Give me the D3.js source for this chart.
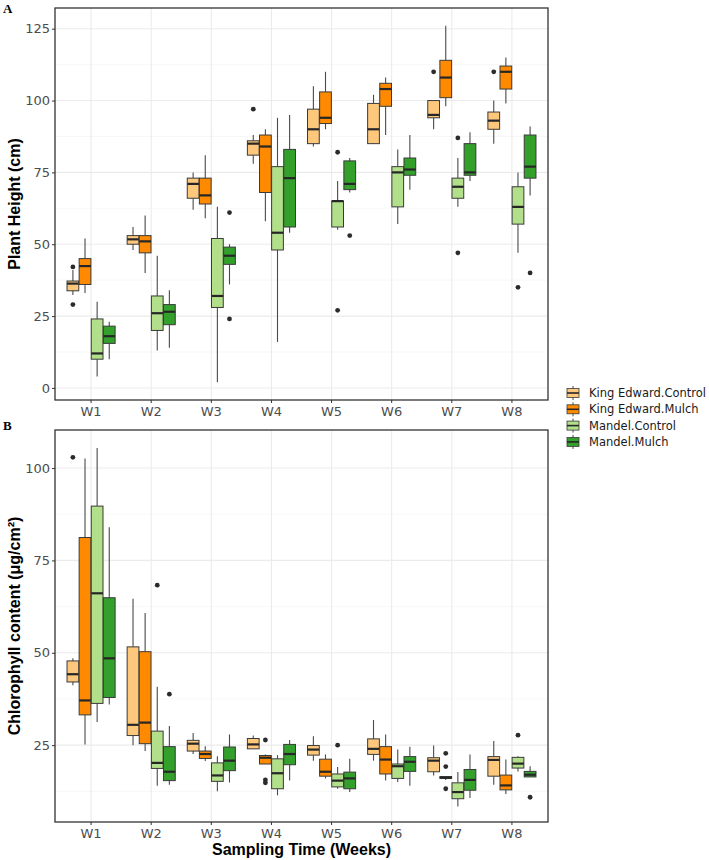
<!DOCTYPE html>
<html><head><meta charset="utf-8">
<script src="https://cdn.jsdelivr.net/npm/d3@7"></script>
<style>body{margin:0;background:#fff} svg{display:block}</style>
</head><body>
<svg id="c" width="709" height="860"></svg>
<script>
const weeks = ["W1","W2","W3","W4","W5","W6","W7","W8"];
const seriesNames = ["King Edward.Control","King Edward.Mulch","Mandel.Control","Mandel.Mulch"];
const seriesColors = ["#FDC77C","#FF8A00","#B2DF8A","#33A02C"];

// Plant height: [lower whisker, Q1, median, Q3, upper whisker] per week
const heightKEControl = [[32.3,33.8,36.3,37.2,41],[48,50,51.7,53,56],[62,66,71,73,75],[78,81,85,86,88],[84,85,90,97,105],[85,85,90,99,102],[90,94,95,100,100],[85,90,93,96,100]];
const heightKEMulch = [[33,36,42.4,45,52],[40,47,51,53,60],[59,64,67,73,81],[58,68,84,88,90],[90,92,94,103,110],[88,98,104,106,108],[98,101,108,114,126],[99,104,110,112,115]];
const heightMandelControl = [[4,10,12,24,30],[13,20,26,32,46],[2,28,32,52,63],[16,48,54,77,94],[55,56,65,65,72],[57,63,75,77,83],[63,66,70,73,80],[47,57,63,70,75]];
const heightMandelMulch = [[10,15.5,18,21.5,23],[14,22,26.5,29,34],[36,43,46,49,50],[54,56,73,83,95],[68,69,71,79,80],[69,74,76,80,88],[72,74,75,85,89],[67,73,77,88,91]];
const heightKEControlOut = [[42.1,29],[],[],[97],[],[],[110],[110]];
const heightKEMulchOut = [[],[],[],[],[],[],[],[]];
const heightMandelControlOut = [[],[],[],[],[82,27],[],[87,47],[35]];
const heightMandelMulchOut = [[],[],[61,24],[],[53],[],[],[40]];

// Chlorophyll content: [lower whisker, Q1, median, Q3, upper whisker] per week
const chlKEControl = [[41.2,42.1,44.2,47.8,48.5],[25,27.6,30.5,51.6,64.6],[22.6,23.4,25.4,26.3,28.3],[24,24,25.2,26.8,27.6],[20.8,22.3,23.8,24.9,27.4],[20.8,22.5,24,26.7,31.8],[16.8,17.8,20.8,21.6,24.9],[14.3,16.6,21,21.9,26.1]];
const chlKEMulch = [[25.2,33.2,37.1,81.2,102.6],[23.4,25.4,31.1,50.3,60.8],[20.7,21.4,22.6,23.4,24.7],[19.9,19.9,21.6,22.2,22.5],[16,16.6,17.8,21.2,22.5],[15.4,17.2,21.1,24.6,27.9],[15.6,16,16.2,16.5,16.5],[11.8,12.9,14.1,16.9,21.1]];
const chlMandelControl = [[31.3,36.3,66.1,89.7,105.4],[14,18.7,20.2,28.8,40.8],[12.5,15.2,16.8,20.2,22],[11.4,13.2,17.4,21.3,22.3],[13.2,13.7,15.4,17.2,19.1],[15,16,19.3,19.9,23.8],[8.4,10.5,12.3,14.8,17.7],[17.9,18.8,20,21.7,22]];
const chlMandelMulch = [[36,37.9,48.5,64.9,84],[14.3,15.4,17.8,24.6,30.2],[14.9,18.1,20.8,24.5,27.9],[15.4,19.7,22.6,25.2,26.4],[12.3,13.2,16,17.7,21.3],[14,17.9,20.5,21.9,24.6],[10.7,12.8,15.6,18.4,22.5],[16.4,16.4,17,17.9,19.3]];
const chlKEControlOut = [[102.9],[],[],[],[],[],[],[]];
const chlKEMulchOut = [[],[],[],[26.4,15.6,14.8],[],[],[22.8,19.2,13.2],[]];
const chlMandelControlOut = [[],[68.3],[],[],[25],[],[],[27.7]];
const chlMandelMulchOut = [[],[38.8],[],[],[],[],[],[10.9]];

const heightTicks = [0,25,50,75,100,125];
const heightMinor = [12.5,37.5,62.5,87.5,112.5];
const chlTicks = [25,50,75,100];
const chlMinor = [12.5,37.5,62.5,87.5];

const svg = d3.select("#c");
const L = 55, R = 548;
const x = d3.scaleBand().domain(weeks).range([L, R]).paddingInner(0).paddingOuter(0.1);
const bw = x.bandwidth();
const xs = d3.scaleBand().domain(seriesNames).range([-0.4*bw, 0.4*bw]).paddingInner(0.03);
const color = d3.scaleOrdinal().domain(seriesNames).range(seriesColors);

function panel(o) {
  const y = d3.scaleLinear().domain(o.domain).range([o.bottom, o.top]);
  const g = svg.append("g");
  g.selectAll(".mn").data(o.minor).join("line")
    .attr("x1", L).attr("x2", R).attr("y1", d=>y(d)).attr("y2", d=>y(d))
    .attr("stroke", "#f2f2f2").attr("stroke-width", 0.6);
  g.selectAll(".mj").data(o.ticks).join("line")
    .attr("x1", L).attr("x2", R).attr("y1", d=>y(d)).attr("y2", d=>y(d))
    .attr("stroke", "#ebebeb").attr("stroke-width", 1.1);
  g.selectAll(".vx").data(weeks).join("line")
    .attr("x1", d=>x(d)+bw/2).attr("x2", d=>x(d)+bw/2).attr("y1", o.top).attr("y2", o.bottom)
    .attr("stroke", "#ebebeb").attr("stroke-width", 1.1);

  o.stats.forEach((arr, si) => {
    const name = seriesNames[si];
    arr.forEach((s, wi) => {
      const cx = x(weeks[wi]) + bw/2 + xs(name) + xs.bandwidth()/2;
      const x0 = x(weeks[wi]) + bw/2 + xs(name);
      const w = xs.bandwidth();
      g.append("line").attr("x1", cx).attr("x2", cx).attr("y1", y(s[0])).attr("y2", y(s[1]))
        .attr("stroke", "#4a4a4a").attr("stroke-width", 1.1);
      g.append("line").attr("x1", cx).attr("x2", cx).attr("y1", y(s[3])).attr("y2", y(s[4]))
        .attr("stroke", "#4a4a4a").attr("stroke-width", 1.1);
      g.append("rect").attr("x", x0).attr("width", w)
        .attr("y", y(s[3])).attr("height", Math.max(1, y(s[1]) - y(s[3])))
        .attr("fill", color(name)).attr("stroke", "#3a3a3a").attr("stroke-width", 1);
      g.append("line").attr("x1", x0).attr("x2", x0 + w).attr("y1", y(s[2])).attr("y2", y(s[2]))
        .attr("stroke", "#262626").attr("stroke-width", 2.2);
      o.outs[si][wi].forEach(v => {
        g.append("circle").attr("cx", cx).attr("cy", y(v)).attr("r", 2.4).attr("fill", "#2b2b2b");
      });
    });
  });

  g.append("rect").attr("x", L).attr("y", o.top).attr("width", R-L).attr("height", o.bottom-o.top)
    .attr("fill", "none").attr("stroke", "#333").attr("stroke-width", 1.3);

  const ya = g.append("g").attr("transform", `translate(${L},0)`)
    .call(d3.axisLeft(y).tickValues(o.ticks).tickSize(3).tickPadding(2));
  ya.select(".domain").remove();
  ya.selectAll("line").attr("stroke", "#333");
  ya.selectAll("text").attr("font-family", "DejaVu Sans").attr("font-size", 13).attr("fill", "#4d4d4d");
  const xa = g.append("g").attr("transform", `translate(0,${o.bottom})`)
    .call(d3.axisBottom(x).tickSize(3).tickPadding(4));
  xa.select(".domain").remove();
  xa.selectAll("line").attr("stroke", "#333");
  xa.selectAll("text").attr("font-family", "DejaVu Sans").attr("font-size", 13).attr("fill", "#4d4d4d");

  g.append("text").attr("transform", `translate(${o.ytx},${(o.top+o.bottom)/2}) rotate(-90)`)
    .attr("text-anchor", "middle").attr("font-family", "Liberation Sans, Arial, sans-serif")
    .attr("font-weight", "bold").attr("font-size", 16).attr("fill", "#000").text(o.ytitle);
  g.append("text").attr("x", 3).attr("y", o.labelY).attr("font-family", "Liberation Serif, serif")
    .attr("font-weight", "bold").attr("font-size", 13).attr("fill", "#000").text(o.label);
}

panel({top: 8, bottom: 400, domain: [-4.2, 132.2], ticks: heightTicks, minor: heightMinor,
  stats: [heightKEControl, heightKEMulch, heightMandelControl, heightMandelMulch],
  outs: [heightKEControlOut, heightKEMulchOut, heightMandelControlOut, heightMandelMulchOut],
  ytitle: "Plant Height (cm)", ytx: 20, label: "A", labelY: 13});
panel({top: 430, bottom: 822, domain: [4.2, 110.3], ticks: chlTicks, minor: chlMinor,
  stats: [chlKEControl, chlKEMulch, chlMandelControl, chlMandelMulch],
  outs: [chlKEControlOut, chlKEMulchOut, chlMandelControlOut, chlMandelMulchOut],
  ytitle: "Chlorophyll content (μg/cm²)", ytx: 20, label: "B", labelY: 430});

svg.append("text").attr("x", (L+R)/2).attr("y", 855).attr("text-anchor", "middle")
  .attr("font-family", "Liberation Sans, Arial, sans-serif").attr("font-weight", "bold")
  .attr("font-size", 16).attr("fill", "#000").text("Sampling Time (Weeks)");

const lg = svg.append("g");
seriesNames.forEach((n, i) => {
  const cy = 393 + i*16.3;
  const kx = 567, kw = 12;
  lg.append("line").attr("x1", kx+kw/2).attr("x2", kx+kw/2).attr("y1", cy-7).attr("y2", cy+7)
    .attr("stroke", "#4a4a4a").attr("stroke-width", 1);
  lg.append("rect").attr("x", kx).attr("y", cy-4.5).attr("width", kw).attr("height", 9)
    .attr("fill", color(n)).attr("stroke", "#3a3a3a").attr("stroke-width", 0.8);
  lg.append("line").attr("x1", kx).attr("x2", kx+kw).attr("y1", cy).attr("y2", cy)
    .attr("stroke", "#262626").attr("stroke-width", 1.6);
  lg.append("text").attr("x", 589).attr("y", cy).attr("dy", "0.36em")
    .attr("font-family", "DejaVu Sans").attr("font-size", 11.5).attr("fill", "#1a1a1a").text(n);
});
</script>
</body></html>
